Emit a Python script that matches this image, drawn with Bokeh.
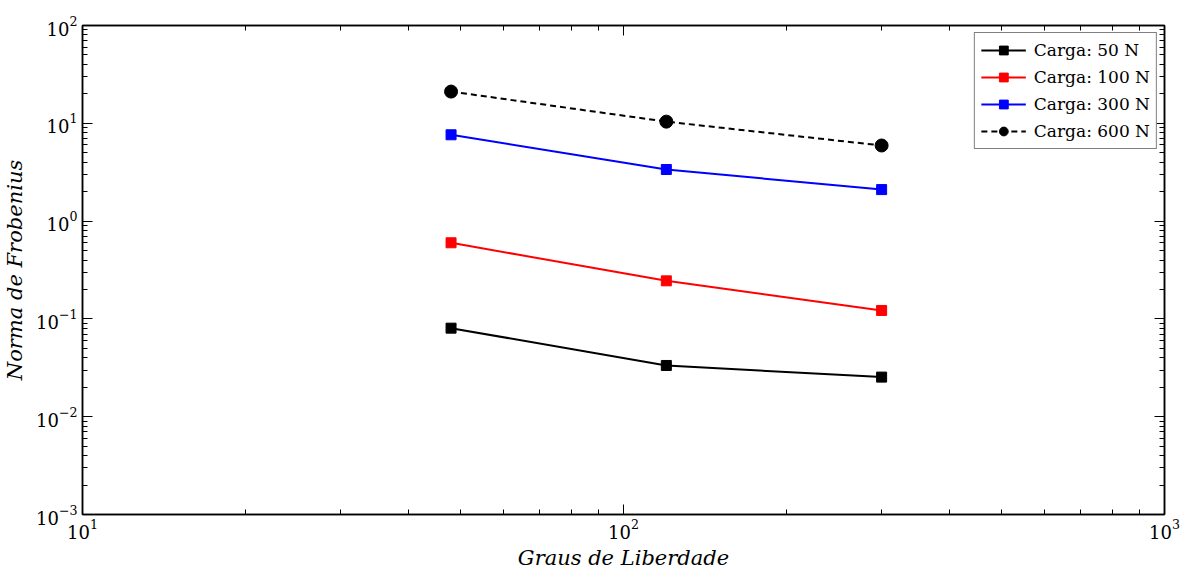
from bokeh.plotting import figure
from bokeh.models import LogAxis, Legend, LegendItem, Range1d, FixedTicker, LogTickFormatter
from bokeh.embed import file_html
from bokeh.resources import INLINE

dof = [48, 120, 300]
carga_50 = [0.0804, 0.0334, 0.0254]
carga_100 = [0.600, 0.245, 0.122]
carga_300 = [7.63, 3.37, 2.10]
carga_600 = [21.1, 10.4, 5.93]
series_labels = ["Carga: 50 N", "Carga: 100 N", "Carga: 300 N", "Carga: 600 N"]

x_major = [10, 100, 1000]
y_major = [1e-3, 1e-2, 1e-1, 1, 10, 100]

SERIF = "DejaVu Serif"

def minors(majors):
    out = []
    for m in majors[:-1]:
        out += [m * k for k in range(2, 10)]
    return out

p = figure(width=1183, height=572, x_axis_type="log", y_axis_type="log",
           x_range=Range1d(10, 1000), y_range=Range1d(1e-3, 1e2),
           output_backend="svg", toolbar_location=None,
           min_border_left=82, min_border_top=25, min_border_right=19, min_border_bottom=58)

p.xgrid.visible = False
p.ygrid.visible = False
p.outline_line_color = "black"
p.outline_line_width = 1.5
p.background_fill_color = "white"
p.border_fill_color = "white"

def style_axis(ax, majors, labels=True):
    ax.ticker = FixedTicker(ticks=majors, minor_ticks=minors(majors))
    ax.formatter = LogTickFormatter()
    ax.major_tick_in = 10
    ax.major_tick_out = 0
    ax.minor_tick_in = 5
    ax.minor_tick_out = 0
    ax.axis_line_color = "black"
    ax.axis_line_width = 1.5
    ax.major_tick_line_color = "black"
    ax.minor_tick_line_color = "black"
    ax.major_label_text_font = SERIF
    ax.major_label_text_font_size = "18px"
    ax.major_label_text_color = "black"
    if not labels:
        ax.major_label_text_alpha = 0
        ax.major_label_text_font_size = "8px"
        ax.major_label_standoff = 0
    ax.axis_label_text_font = SERIF
    ax.axis_label_text_font_style = "italic"
    ax.axis_label_text_font_size = "21px"
    ax.axis_label_text_color = "black"

style_axis(p.xaxis[0], x_major)
style_axis(p.yaxis[0], y_major)
p.xaxis[0].axis_label = "Graus de Liberdade"
p.yaxis[0].axis_label = "Norma de Frobenius"
p.xaxis[0].axis_label_standoff = 4
p.yaxis[0].axis_label_standoff = 6
p.xaxis[0].major_label_standoff = 4

top = LogAxis()
style_axis(top, x_major, labels=False)
p.add_layout(top, "above")
right = LogAxis()
style_axis(right, y_major, labels=False)
p.add_layout(right, "right")

items = []
specs = [
    (carga_50, "black", "solid", "square", 10),
    (carga_100, "red", "solid", "square", 10),
    (carga_300, "blue", "solid", "square", 10),
    (carga_600, "black", "6 4", "circle", 13),
]
for (vals, col, dash, marker, size), lab in zip(specs, series_labels):
    l = p.line(dof, vals, line_color=col, line_width=2, line_dash=dash)
    s = p.scatter(dof, vals, marker=marker, size=size, fill_color=col, line_color=col)
    items.append(LegendItem(label=lab, renderers=[l, s]))

legend = Legend(items=items, location="top_right")
legend.margin = 7
legend.border_line_color = "black"
legend.border_line_width = 1.2
legend.background_fill_color = "white"
legend.background_fill_alpha = 1
legend.label_text_font = SERIF
legend.label_text_font_size = "17px"
legend.label_text_color = "black"
legend.glyph_width = 45
legend.glyph_height = 22
legend.spacing = 5
legend.padding = 6
legend.label_standoff = 8
p.add_layout(legend)

open("out.html", "w").write(file_html(p, INLINE))
